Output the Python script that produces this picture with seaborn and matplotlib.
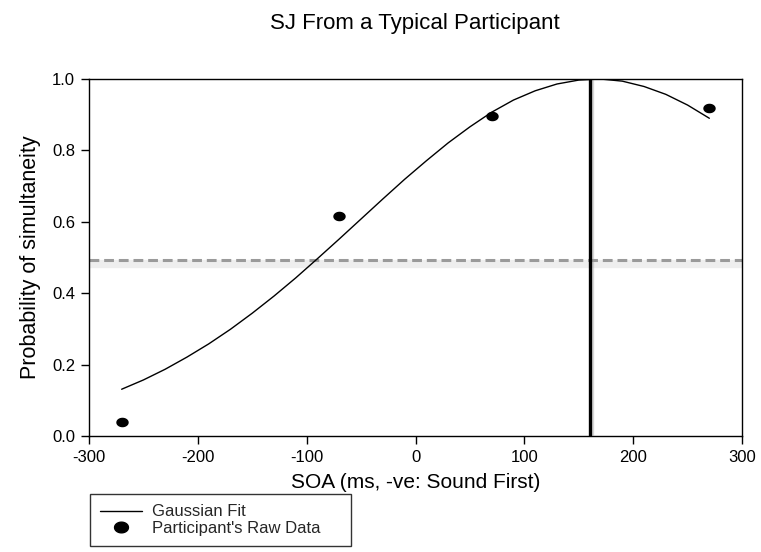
import numpy as np
import pandas as pd
import matplotlib
matplotlib.use("Agg")
import matplotlib.pyplot as plt
import matplotlib.patheffects as pe
from matplotlib.path import Path
from matplotlib.lines import Line2D
import seaborn as sns

# ---- data ----
soa_raw = [-270, -70, 70, 270]
p_raw = [0.04, 0.615, 0.895, 0.92]

fit_soa = [-270, -250, -230, -210, -190, -170, -150, -130, -110, -90, -70, -50,
           -30, -10, 10, 30, 50, 70, 90, 110, 130, 150, 170, 190, 210, 230, 250, 270]
fit_p = [0.131, 0.157, 0.187, 0.221, 0.258, 0.299, 0.344, 0.392, 0.443, 0.497,
         0.552, 0.608, 0.664, 0.719, 0.771, 0.821, 0.866, 0.907, 0.941, 0.967,
         0.986, 0.997, 1.000, 0.994, 0.979, 0.957, 0.927, 0.890]

pss = 160
threshold = 0.493

x_ticks = [-300, -200, -100, 0, 100, 200, 300]
y_ticks = [0.0, 0.2, 0.4, 0.6, 0.8, 1.0]

title = "SJ From a Typical Participant"
xlabel = "SOA (ms, -ve: Sound First)"
ylabel = "Probability of simultaneity"
legend_labels = ["Gaussian Fit", "Participant's Raw Data"]

# ---- style ----
sns.set_theme(style="white")
plt.rcParams["font.family"] = ["Liberation Sans", "DejaVu Sans"]

W, H = 761, 552
fig = plt.figure(figsize=(W / 100, H / 100), dpi=100)
ax = fig.add_axes([89 / W, 1 - 436 / H, (742 - 89) / W, (436 - 79) / H])

fit_df = pd.DataFrame({"soa": fit_soa, "p": fit_p})
raw_df = pd.DataFrame({"soa": soa_raw, "p": p_raw})

# soft shadow under the threshold line
ax.axhline(threshold, color="#eeeeee", lw=5, zorder=1,
           path_effects=[pe.Stroke(offset=(0, -3), linewidth=6, foreground="#eeeeee")])
# horizontal dashed threshold
ax.axhline(threshold, color="#9a9a9a", lw=2.2, ls=(0, (3.2, 1.6)), zorder=2)
# vertical PSS line with shadow
ax.axvline(pss, color="black", lw=2.4, zorder=3,
           path_effects=[pe.SimpleLineShadow(offset=(1.5, 0), shadow_color="#999999", alpha=0.4, rho=1.0),
                         pe.Normal()])

sns.lineplot(data=fit_df, x="soa", y="p", ax=ax, color="black", lw=1.0,
             estimator=None, sort=False, zorder=4)

# elliptical marker
t = np.linspace(0, 2 * np.pi, 40)
ell = Path(np.column_stack([1.3 * np.cos(t), np.sin(t)]), closed=True)
sns.scatterplot(data=raw_df, x="soa", y="p", ax=ax, marker=ell, s=80,
                color="black", edgecolor="black", linewidth=0, zorder=5)

ax.set_xlim(-300, 300)
ax.set_ylim(0, 1.0)
ax.set_xticks(x_ticks)
ax.set_xticklabels([str(v) for v in x_ticks])
ax.set_yticks(y_ticks)
ax.set_yticklabels([f"{v:.1f}" for v in y_ticks])
ax.tick_params(axis="both", direction="out", length=6, width=1, color="black",
               labelsize=12, labelcolor="black", pad=4,
               bottom=True, left=True, top=False, right=False)
for s in ax.spines.values():
    s.set_color("black")
    s.set_linewidth(1.0)
ax.set_xlabel(xlabel, fontsize=15, color="black", labelpad=6)
ax.set_ylabel(ylabel, fontsize=15.5, color="black", labelpad=8)
fig.text(415 / W, 1 - 24 / H, title, ha="center", va="center", fontsize=16, color="black")

handles = [Line2D([], [], color="black", lw=1.0),
           Line2D([], [], marker=ell, color="black", ls="none", markersize=10)]
leg = fig.legend(handles, legend_labels, loc="upper left",
                 bbox_to_anchor=(90 / W, 1 - 500 / H, (351 - 90) / W, 0.01),
                 mode="expand", frameon=True, fancybox=False,
                 fontsize=12, borderpad=0.6, labelspacing=0.1, handlelength=2.5,
                 handletextpad=0.6, borderaxespad=0)
leg.get_frame().set_edgecolor("black")
leg.get_frame().set_linewidth(1.0)

fig.savefig("out.png", dpi=100)
